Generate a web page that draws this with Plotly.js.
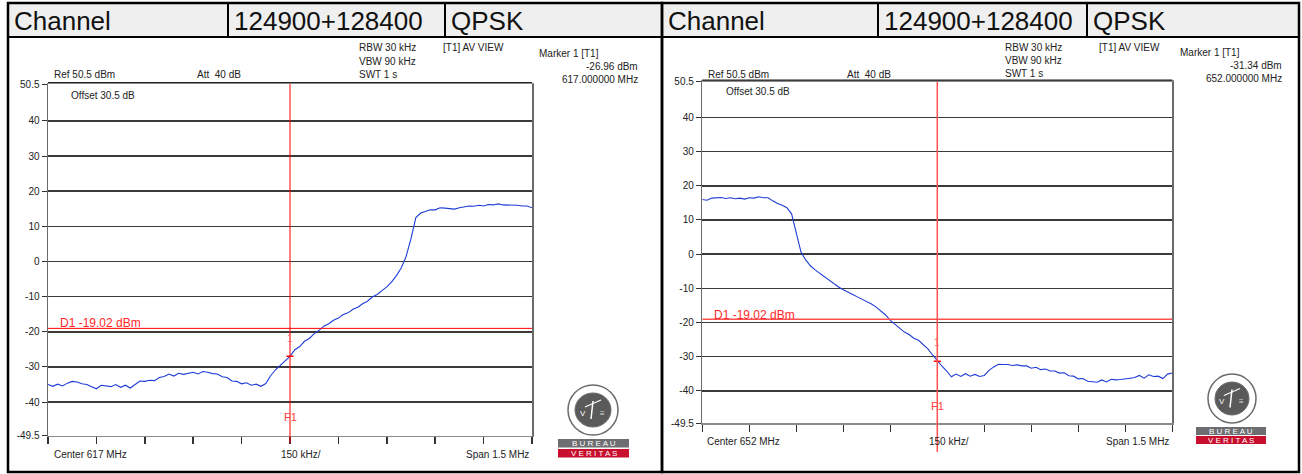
<!DOCTYPE html>
<html><head><meta charset="utf-8">
<script src="https://cdn.plot.ly/plotly-3.0.1.min.js"></script>
<style>html,body{margin:0;padding:0;background:#fff}#chart{width:1302px;height:474px}</style>
</head><body><div id="chart"></div><script>
// ---------------- data ----------------
const headerCells = ['Channel', '124900+128400', 'QPSK'];
const centersMHz = [617, 652];
const spanMHz = 1.5;
const divisionLabel = '150 kHz/';
const offsetsKHz = [0,15,30,45,60,75,90,105,120,135,150,165,180,195,210,225,240,255,270,285,
  300,315,330,345,360,375,390,405,420,435,450,465,480,495,510,525,540,555,570,585,
  600,615,630,645,660,675,690,705,720,735,750,765,780,795,810,825,840,855,870,885,
  900,915,930,945,960,975,990,1005,1020,1035,1050,1065,1080,1095,1110,1125,1140,1155,1170,1185,
  1200,1215,1230,1245,1260,1275,1290,1305,1320,1335,1350,1365,1380,1395,1410,1425,1440,1455,1470,1485,1500];
const levelsLeft = [-35.0,-35.5,-34.9,-35.4,-34.6,-34.1,-34.3,-34.8,-35.0,-35.7,
  -36.2,-35.2,-35.3,-35.6,-35.0,-35.8,-35.2,-36.0,-35.0,-34.0,
  -34.1,-33.8,-33.9,-33.0,-32.7,-32.0,-32.6,-31.8,-32.1,-31.9,
  -31.5,-32.0,-31.3,-31.5,-31.9,-32.0,-32.8,-33.0,-34.0,-34.1,
  -34.8,-34.5,-35.2,-34.9,-35.5,-34.7,-32.5,-30.8,-29.6,-28.3,
  -27.0,-25.1,-24.2,-22.7,-21.9,-20.5,-19.6,-18.4,-17.7,-16.7,
  -16.1,-15.1,-14.6,-13.6,-13.0,-12.0,-11.3,-10.1,-9.4,-8.3,
  -7.2,-5.8,-4.0,-1.8,1.5,6.5,12.5,13.8,14.3,14.7,
  14.7,15.3,15.2,15.1,14.9,15.3,15.5,15.8,15.7,16.0,
  15.8,16.2,16.1,16.4,16.1,16.1,15.9,16.0,15.8,15.8,
  15.3];
const levelsRight = [16.0,15.8,16.4,16.4,16.6,16.3,16.5,16.2,16.4,16.1,
  16.5,16.4,16.8,16.5,16.5,15.6,14.8,14.3,13.6,11.8,
  6.5,0.6,-1.7,-3.4,-4.6,-5.6,-6.8,-7.8,-8.7,-9.6,
  -10.4,-11.0,-11.8,-12.5,-13.2,-13.8,-14.6,-15.5,-16.6,-17.8,
  -19.4,-20.5,-21.5,-22.8,-23.5,-24.6,-25.2,-26.4,-27.7,-29.5,
  -31.3,-32.8,-34.2,-35.9,-35.1,-35.8,-35.0,-35.7,-35.2,-35.8,
  -35.5,-34.0,-33.0,-32.2,-32.3,-32.3,-32.6,-32.4,-32.7,-32.7,
  -33.4,-33.1,-33.8,-33.6,-34.2,-34.2,-34.8,-34.7,-35.6,-35.7,
  -36.5,-36.4,-37.2,-37.4,-37.5,-36.8,-37.4,-36.6,-36.8,-36.7,
  -36.4,-36.3,-36.1,-35.5,-36.3,-35.3,-35.8,-35.7,-36.4,-35.1,
  -34.8];
const markerFreqsMHz = [617.0, 652.0];
const markerLevels = [-26.96, -31.34];
const displayLine = -19.02;
const refLevel = 50.5;
const bottomLevel = -49.5;
const yTickVals = [50.5, 40, 30, 20, 10, 0, -10, -20, -30, -40, -49.5];
const yTickText = ['50.5', '40', '30', '20', '10', '0', '-10', '-20', '-30', '-40', '-49.5'];
const rbwText = 'RBW 30 kHz', vbwText = 'VBW 90 kHz', swtText = 'SWT 1 s';
const attText = 'Att  40 dB', offsetText = 'Offset 30.5 dB', viewText = '[T1] AV VIEW';

// ---------------- layout helpers ----------------
const W = 1302, H = 474;
const px = x => x / W, py = y => 1 - y / H;
const FONT = 'Liberation Sans, Arial, sans-serif';

const panels = [
  { plot: [48, 84, 532, 435.5], box: [8, 3, 662, 472], cells: [8, 228, 445, 662], head: [3, 37],
    red: 'rgb(255,0,0)', redW: 1,
    t: { ref: [52, 75], att: [195, 75], rbw: [357, 48], vbw: [357, 62], swt: [357, 75], view: [441, 48],
         mk: [537, 54], mkL: [640, 67], mkF: [640, 80], off: [69, 95], cen: [52, 454], div: [279, 454],
         span: [531, 454], d1: [58, 323], f1: [290, 417], one: [290, 338], fBot: 443 },
    logo: { ox: 568, oy: 385, ow: 50, oh: 50, rx: 558, rw: 71, r1: 439, r2: 449, rh: 8.5 } },
  { plot: [702.3, 81.6, 1172.3, 423.3], box: [662, 3, 1299, 472], cells: [662, 878, 1087, 1299], head: [3, 37],
    red: 'rgb(255,80,80)', redW: 1.5,
    t: { ref: [706, 75], att: [845, 75], rbw: [1003, 48], vbw: [1003, 61], swt: [1003, 74], view: [1097, 48],
         mk: [1178, 53], mkL: [1284, 66], mkF: [1284, 79], off: [724, 92], cen: [705, 441], div: [927, 441],
         span: [1171, 441], d1: [712, 315], f1: [937, 406], one: [937, 342], fBot: 452 },
    logo: { ox: 1208, oy: 374, ow: 48, oh: 49, rx: 1196, rw: 70, r1: 427, r2: 436, rh: 8 } }
];
const levels = [levelsLeft, levelsRight];

const traces = [], shapes = [], annotations = [];
const layout = {
  width: W, height: H, margin: { l: 0, r: 0, t: 0, b: 0 },
  paper_bgcolor: '#fff', plot_bgcolor: '#fff', showlegend: false,
  font: { family: FONT, size: 10, color: '#222' }
};

function ann(x, y, text, opts = {}) {
  annotations.push(Object.assign({
    xref: 'paper', yref: 'paper', x: px(x), y: py(y), text: text, showarrow: false,
    xanchor: 'left', yanchor: 'middle', font: { family: FONT, size: 10, color: '#222' }
  }, opts));
}
function rect(x0, y0, x1, y1, opts) {
  shapes.push(Object.assign({ type: 'rect', xref: 'paper', yref: 'paper', x0: px(x0), x1: px(x1), y0: py(y1), y1: py(y0) }, opts));
}
function pline(x0, y0, x1, y1, color, width) {
  shapes.push({ type: 'line', xref: 'paper', yref: 'paper', x0: px(x0), x1: px(x1), y0: py(y0), y1: py(y1), line: { color: color, width: width } });
}

panels.forEach((p, i) => {
  const sfx = i === 0 ? '' : String(i + 1);
  const xa = 'x' + sfx, ya = 'y' + sfx;
  const c = centersMHz[i];
  const f0 = c - spanMHz / 2, f1 = c + spanMHz / 2;
  const xt = [];
  for (let k = 0; k <= 10; k++) xt.push(f0 + k * spanMHz / 10);

  // header + frame
  rect(p.cells[0], p.head[0], p.cells[3], p.head[1], { fillcolor: '#efefef', line: { width: 0 }, layer: 'below' });
  for (let k = 0; k < 3; k++) {
    rect(p.cells[k], p.head[0], p.cells[k + 1], p.head[1], { line: { color: '#000', width: 2 } });
    ann(p.cells[k] + 4, (p.head[0] + p.head[1]) / 2 + 1, headerCells[k], { font: { family: FONT, size: 26, color: '#111' } });
  }
  rect(p.box[0], p.box[1], p.box[2], p.box[3], { line: { color: '#000', width: 2.5 } });

  // axes
  layout['xaxis' + sfx] = {
    domain: [px(p.plot[0]), px(p.plot[2])], range: [f0, f1], anchor: ya,
    tickmode: 'array', tickvals: xt, ticks: 'outside', ticklen: 7, tickwidth: 1.5, tickcolor: '#333',
    showticklabels: false, showgrid: false, zeroline: false,
    showline: true, linecolor: '#8a8a8a', linewidth: 1.5, mirror: true, fixedrange: true
  };
  layout['yaxis' + sfx] = {
    domain: [py(p.plot[3]), py(p.plot[1])], range: [bottomLevel, refLevel], anchor: xa,
    tickmode: 'array', tickvals: yTickVals, ticktext: yTickText, ticks: 'outside', ticklen: 5, tickwidth: 1,
    tickcolor: '#333', tickfont: { family: FONT, size: 10, color: '#222' },
    showgrid: true, gridcolor: '#3a3a3a', gridwidth: 1.5, zeroline: false,
    showline: true, linecolor: '#6a6a6a', linewidth: 1.5, mirror: true, fixedrange: true
  };
  // double top line of the frame
  pline(p.plot[0], p.plot[1] - 1.5, p.plot[2], p.plot[1] - 1.5, '#222', 1.2);

  // trace
  traces.push({
    type: 'scatter', mode: 'lines', xaxis: xa, yaxis: ya,
    x: offsetsKHz.map(o => f0 + o / 1000), y: levels[i],
    line: { color: 'rgb(30,60,215)', width: 1.1 }, hoverinfo: 'skip'
  });

  // display line D1 and frequency line F1
  shapes.push({ type: 'line', xref: xa, yref: ya, x0: f0, x1: f1, y0: displayLine, y1: displayLine,
    line: { color: p.red, width: p.redW } });
  shapes.push({ type: 'line', xref: xa, yref: 'paper', x0: markerFreqsMHz[i], x1: markerFreqsMHz[i],
    y0: py(p.t.fBot), y1: py(p.plot[1]), line: { color: p.red, width: p.redW } });
  traces.push({
    type: 'scatter', mode: 'markers', xaxis: xa, yaxis: ya, x: [markerFreqsMHz[i]], y: [markerLevels[i]],
    marker: { symbol: 'line-ew', size: 5, line: { color: 'rgb(255,0,0)', width: 1.5 } }, hoverinfo: 'skip'
  });

  // texts
  const t = p.t;
  ann(t.ref[0], t.ref[1], 'Ref 50.5 dBm');
  ann(t.att[0], t.att[1], attText);
  ann(t.rbw[0], t.rbw[1], rbwText);
  ann(t.vbw[0], t.vbw[1], vbwText);
  ann(t.swt[0], t.swt[1], swtText);
  ann(t.view[0], t.view[1], viewText);
  ann(t.mk[0], t.mk[1], 'Marker 1 [T1]');
  ann(t.mkL[0], t.mkL[1], markerLevels[i].toFixed(2) + ' dBm', { xanchor: 'right' });
  ann(t.mkF[0], t.mkF[1], markerFreqsMHz[i].toFixed(6) + ' MHz', { xanchor: 'right' });
  ann(t.off[0], t.off[1], offsetText);
  ann(t.cen[0], t.cen[1], 'Center ' + c + ' MHz');
  ann(t.div[0], t.div[1], divisionLabel);
  ann(t.span[0], t.span[1], 'Span ' + spanMHz + ' MHz', { xanchor: 'right' });
  ann(t.d1[0], t.d1[1], 'D1 ' + displayLine.toFixed(2) + ' dBm', { font: { family: FONT, size: 12, color: 'rgb(255,40,40)' } });
  ann(t.f1[0], t.f1[1], 'F1', { xanchor: 'center', font: { family: FONT, size: 11, color: 'rgb(255,60,60)' } });
  ann(t.one[0], t.one[1], '1', { xanchor: 'center', font: { family: FONT, size: 10, color: 'rgb(255,110,110)' } });

  // Bureau Veritas logo
  const L = p.logo;
  shapes.push({ type: 'circle', xref: 'paper', yref: 'paper', x0: px(L.ox), x1: px(L.ox + L.ow), y0: py(L.oy + L.oh), y1: py(L.oy),
    line: { color: '#6b6b6b', width: 1.5 }, fillcolor: '#fff' });
  shapes.push({ type: 'circle', xref: 'paper', yref: 'paper', x0: px(L.ox + 7), x1: px(L.ox + L.ow - 7), y0: py(L.oy + L.oh - 8), y1: py(L.oy + 8),
    line: { color: '#6b6b6b', width: 1 }, fillcolor: '#5a5a5a' });
  const cx = L.ox + L.ow / 2, cy = L.oy + L.oh / 2;
  pline(cx, cy - 9, cx - 2, cy + 9, '#fff', 1.5);
  pline(cx - 8, cy - 3, cx + 8, cy - 10, '#fff', 1.2);
  ann(cx - 10, cy + 3, 'V', { xanchor: 'center', font: { family: FONT, size: 8, color: '#fff' } });
  ann(cx + 9, cy + 3, '≡', { xanchor: 'center', font: { family: FONT, size: 8, color: '#ddd' } });
  rect(L.rx, L.r1, L.rx + L.rw, L.r1 + L.rh, { fillcolor: '#6d6e71', line: { width: 0 } });
  rect(L.rx, L.r2, L.rx + L.rw, L.r2 + L.rh, { fillcolor: '#c8102e', line: { width: 0 } });
  ann(L.rx + L.rw / 2, L.r1 + L.rh / 2, 'B U R E A U', { xanchor: 'center', font: { family: FONT, size: 8, color: '#fff' } });
  ann(L.rx + L.rw / 2, L.r2 + L.rh / 2, 'V E R I T A S', { xanchor: 'center', font: { family: FONT, size: 8, color: '#fff' } });
});

layout.shapes = shapes;
layout.annotations = annotations;
Plotly.newPlot('chart', traces, layout, { staticPlot: true, displayModeBar: false });
</script></body></html>
